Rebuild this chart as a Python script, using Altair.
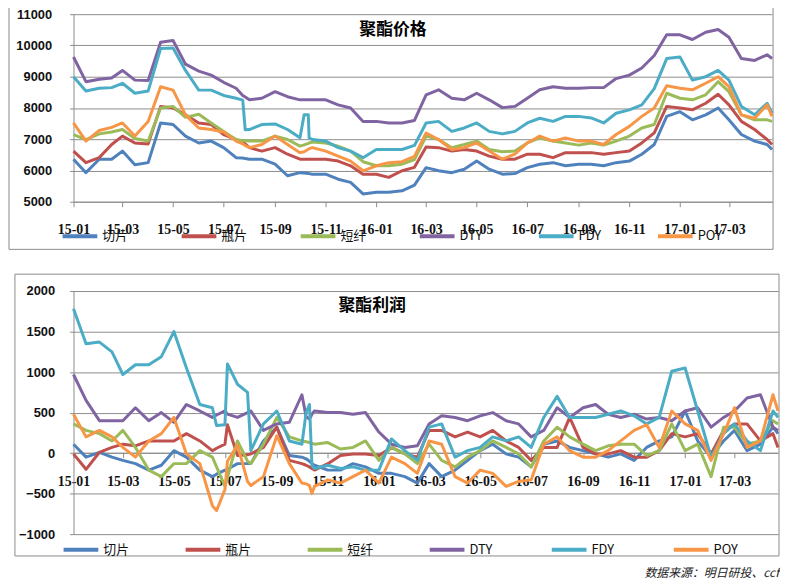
import altair as alt
import pandas as pd

SERIES = ["切片", "瓶片", "短纤", "DTY", "FDY", "POY"]
COLORS = ["#4F81BD", "#C0504D", "#9BBB59", "#8064A2", "#4BACC6", "#F79646"]

# half-month sample dates, Jan 2015 .. Apr 2017
DATES = [f"{2015 + (i // 24)}-{(i // 2) % 12 + 1:02d}-{'01' if i % 2 == 0 else '16'}" for i in range(56)] + ["2017-04-22"]
# extra dates where the curves have sharp features
PRICE_EXTRA_DATES = ["2015-07-24", "2015-07-27", "2015-10-06", "2015-10-11", "2015-10-12"]
PROFIT_EXTRA_DATES = ["2015-06-21", "2015-07-04", "2015-07-28", "2015-10-06", "2015-10-10", "2015-10-13"]

TICK_LABEL_MONTHS = [(2015, 1), (2015, 3), (2015, 5), (2015, 7), (2015, 9), (2015, 11),
                     (2016, 1), (2016, 3), (2016, 5), (2016, 7), (2016, 9), (2016, 11),
                     (2017, 1), (2017, 3)]

# ---- 聚酯价格 ----
price_qp = [6360, 5930, 6360, 6360, 6620, 6180, 6250, 7520, 7470, 7100, 6880, 6940, 6730, 6410,
            6360, 6360, 6200, 5830, 5930, 5880, 5880, 5720, 5620, 5250, 5300, 5300, 5350, 5530,
            6090, 5990, 5930, 6040, 6300, 6040, 5880, 5900, 6090, 6200, 6250, 6150, 6200,
            6200, 6150, 6250, 6300, 6520, 6830, 7730, 7880, 7620, 7780, 8000, 7620, 7150, 6940, 6830, 6670]
price_pp = [6620, 6250, 6410, 6830, 7100, 6880, 6850, 8050, 8000, 7780, 7520, 7470, 7150, 6990,
            6730, 6620, 6730, 6520, 6360, 6360, 6360, 6300, 6150, 5880, 5880, 5780, 5990, 6100,
            6750, 6730, 6620, 6670, 6620, 6460, 6360, 6360, 6520, 6520, 6410, 6570, 6570,
            6570, 6520, 6570, 6620, 6880, 7200, 8050, 8000, 7940, 8150, 8440, 8100, 7570, 7310, 6990, 6830]
price_dx = [7150, 6990, 7170, 7230, 7310, 7020, 6940, 8000, 8050, 7700, 7800, 7520, 7250, 6990,
            6940, 6940, 7100, 6990, 6780, 6910, 6880, 6780, 6620, 6280, 6150, 6150, 6200, 6350,
            7100, 6990, 6730, 6830, 6940, 6670, 6600, 6620, 6880, 7040, 6940, 6880, 6810,
            6880, 6810, 6940, 7100, 7360, 7470, 8470, 8310, 8260, 8420, 8840, 8520, 7780, 7620, 7620, 7570]
price_dty = [9630, 8840, 8920, 8960, 9200, 8890, 8880, 10100, 10160, 9400, 9180, 9050, 8820, 8630,
             8260, 8310, 8520, 8360, 8260, 8260, 8260, 8100, 8000, 7570, 7570, 7520, 7520, 7600,
             8420, 8580, 8310, 8260, 8470, 8260, 8010, 8050, 8310, 8580, 8680, 8630, 8630,
             8650, 8650, 8940, 9050, 9280, 9680, 10340, 10340, 10190, 10420, 10510, 10260, 9580, 9520, 9700, 9580]
price_fdy = [9000, 8540, 8630, 8650, 8790, 8470, 8540, 9900, 9920, 9200, 8570, 8570, 8400, 8310,
             7310, 7470, 7490, 7310, 7050, 6990, 6940, 6730, 6620, 6410, 6670, 6670, 6670, 6800,
             7520, 7570, 7250, 7360, 7520, 7250, 7170, 7250, 7520, 7670, 7570, 7730, 7730,
             7680, 7520, 7830, 7940, 8100, 8620, 9580, 9630, 8890, 9000, 9200, 8890, 8050, 7780, 8150, 7830]
price_poy = [7520, 6940, 7280, 7380, 7520, 7100, 7570, 8680, 8570, 7780, 7360, 7310, 7230, 6940,
             6730, 6830, 7100, 6830, 6570, 6730, 6620, 6460, 6300, 5990, 6150, 6250, 6280, 6450,
             7200, 6990, 6670, 6730, 6880, 6620, 6360, 6520, 6880, 7100, 6940, 7040, 6940,
             6940, 6830, 7150, 7410, 7730, 8000, 8710, 8630, 8580, 8790, 9000, 8680, 7780, 7670, 8100, 7730]
# values at PRICE_EXTRA_DATES
price_qp_x = [6400, 6380, 5920, 5900, 5900]
price_pp_x = [6900, 6850, 6360, 6360, 6360]
price_dx_x = [6950, 6950, 6820, 6870, 6880]
price_dty_x = [8400, 8350, 8260, 8260, 8260]
price_fdy_x = [8250, 7300, 7780, 7780, 7040]
price_poy_x = [6850, 6800, 6600, 6680, 6700]

# ---- 聚酯利润 ----
profit_qp = [110, -50, 10, -50, -90, -130, -210, -150, 30, -50, -210, -290, -210, -130,
             -130, 150, 320, -30, -50, -150, -210, -210, -130, -170, -250, -250, -290, -370,
             -130, -290, -210, -90, 30, 110, -10, -50, -170, 110, 150, 70, 30,
             -10, -50, -10, -90, 70, 150, 200, 520, 150, -50, 150, 280, 30, 110, 320, 240]
profit_pp = [-10, -200, 10, 70, 110, 90, 150, 150, 150, 240, 150, 30, 110, -30,
             -10, 70, 320, -90, -130, -210, -130, -30, -10, -10, -30, 70, -10, -50,
             280, 280, 200, 260, 200, 280, 150, 70, -90, 70, 70, 440, 70,
             -10, -10, 30, -50, -50, 30, 240, 200, 240, -10, 280, 360, 360, 150, 240, 70]
profit_dx = [360, 280, 240, 150, 280, 70, -210, -290, -130, -130, 30, -50, -410, 150,
             -130, 110, 440, 200, 150, 110, 130, 50, 70, 150, -90, 70, -10, -130,
             110, -90, -170, -50, 30, 150, 70, -10, -170, 150, 320, 200, 110,
             30, 90, 110, 110, -30, 30, 360, 30, 110, -290, 320, 320, 110, 150, 400, 360]
profit_dty = [970, 650, 400, 400, 400, 560, 400, 500, 380, 600, 520, 440, 520, 440,
              520, 280, 360, 380, 720, 520, 500, 500, 480, 500, 260, 110, 70, 90,
              360, 460, 440, 400, 460, 500, 400, 360, 200, 280, 560, 440, 560,
              600, 480, 440, 480, 420, 440, 400, 520, 560, 320, 440, 520, 680, 720, 320, 280]
profit_fdy = [1780, 1350, 1370, 1250, 970, 1090, 1090, 1190, 1500, 1050, 600, 560, 350, 850,
              30, 360, 520, 150, 110, -190, -150, -190, -170, -210, -210, 175, 30, -90,
              320, 360, -50, 30, 70, 200, 150, 200, 70, 440, 700, 440, 440,
              440, 480, 520, 460, 360, 440, 1010, 1050, 520, -50, 240, 360, 150, 30, 520, 440]
profit_poy = [480, 200, 280, 200, 70, -50, 150, 240, 440, -10, -130, -650, -450, 100,
              -400, -290, 215, -130, -370, -410, -330, -370, -290, -210, -370, -50, -130, -250,
              150, 110, -290, -370, -210, -250, -410, -350, -330, 110, 200, 30, -50,
              -50, 30, 150, 280, 350, 70, 520, 360, 280, -90, 240, 560, 70, 150, 720, 520]
# values at PROFIT_EXTRA_DATES
profit_qp_x = [-260, -200, -130, -70, -100, -130]
profit_pp_x = [60, 350, -20, -150, -170, -190]
profit_dx_x = [-170, -300, -100, 140, 130, 120]
profit_dty_x = [470, 480, 500, 450, 420, 480]
profit_fdy_x = [340, 1100, 750, 500, 600, -150]
profit_poy_x = [-710, -100, -350, -380, -400, -500]

PRICE_VALUES = [5000, 6000, 7000, 8000, 9000, 10000, 11000]
PROFIT_VALUES = [-1000, -500, 0, 500, 1000, 1500, 2000]
SOURCE = "数据来源：明日研投、ccf"


def long_df(dates, arrays):
    rows = []
    for name, arr in zip(SERIES, arrays):
        for d, v in zip(dates, arr):
            rows.append({"date": d, "series": name, "value": v})
    df = pd.DataFrame(rows)
    df["order"] = df["series"].map({s: i for i, s in enumerate(SERIES)})
    return df.sort_values(["order", "date"]).drop(columns="order").reset_index(drop=True)


TICKS = [alt.DateTime(year=y, month=m, date=1, utc=True) for y, m in TICK_LABEL_MONTHS]
X_DOMAIN = [alt.DateTime(year=2015, month=1, date=1, utc=True),
            alt.DateTime(year=2017, month=4, date=22, utc=True)]

GRAY = "#8c8c8c"


def panel(df, title, ydom, yvals, w, h, c):
    x = alt.X("date:T", title=None,
              scale=alt.Scale(type="utc", domain=X_DOMAIN, nice=False),
              axis=alt.Axis(values=TICKS, labelExpr="utcFormat(datum.value, '%y-%m')", grid=False,
                            domainColor=GRAY, tickColor=GRAY, tickSize=5,
                            labelPadding=c["xpad"], offset=c["xoff"],
                            labelFont="Liberation Serif", labelFontWeight="bold",
                            labelFontSize=14, labelColor="#111",
                            labelOverlap=False, labelFlush=False))
    y = alt.Y("value:Q", title=None,
              scale=alt.Scale(domain=ydom, nice=False, zero=False),
              axis=alt.Axis(values=yvals, format="d", grid=True, gridColor=GRAY, gridWidth=1,
                            domainColor=GRAY, tickColor=GRAY, tickSize=4,
                            labelPadding=c["ypad"], labelFont="Liberation Sans",
                            labelFontWeight="bold", labelFontSize=13, labelColor="#111"))
    color = alt.Color("series:N", sort=SERIES,
                      scale=alt.Scale(domain=SERIES, range=COLORS),
                      legend=alt.Legend(orient="none", legendX=c["lx"], legendY=c["ly"],
                                        direction="horizontal", columns=6, title=None,
                                        symbolType="stroke", symbolSize=1225, symbolStrokeWidth=4,
                                        labelFont="Noto Sans CJK SC", labelFontSize=13,
                                        labelColor="#111", columnPadding=c["cp"],
                                        gridAlign="all", labelOffset=3))
    lines = alt.Chart(df).mark_line(strokeWidth=3, strokeJoin="round").encode(
        x=x, y=y, color=color)
    border = alt.Chart(pd.DataFrame({"k": [0]})).mark_rect(
        fillOpacity=0, stroke="#8a8a8a", strokeWidth=1).encode(
        x=alt.value(c["bx"][0]), x2=alt.value(c["bx"][1]),
        y=alt.value(c["by"][0]), y2=alt.value(c["by"][1]))
    ttl = alt.Chart(pd.DataFrame({"t": [title]})).mark_text(
        font="Noto Sans CJK SC", fontSize=17, fontWeight="bold", color="#000").encode(
        text="t:N", x=alt.value(c["tx"]), y=alt.value(c["ty"]))
    layers = [border, lines, ttl]
    if "src" in c:
        src = alt.Chart(pd.DataFrame({"t": [SOURCE]})).mark_text(
            font="Noto Sans CJK SC", fontSize=12, fontStyle="italic", align="right",
            baseline="bottom", color="#222").encode(
            text="t:N", x=alt.value(c["src"][0]), y=alt.value(c["src"][1]))
        layers.append(src)
    return alt.layer(*layers).properties(width=w, height=h)


price_df = long_df(DATES + PRICE_EXTRA_DATES,
                   [price_qp + price_qp_x, price_pp + price_pp_x, price_dx + price_dx_x,
                    price_dty + price_dty_x, price_fdy + price_fdy_x, price_poy + price_poy_x])
profit_df = long_df(DATES + PROFIT_EXTRA_DATES,
                    [profit_qp + profit_qp_x, profit_pp + profit_pp_x, profit_dx + profit_dx_x,
                     profit_dty + profit_dty_x, profit_fdy + profit_fdy_x, profit_poy + profit_poy_x])

top = panel(price_df, "聚酯价格", [5000, 11000], PRICE_VALUES, 704, 189,
            dict(xpad=16, xoff=0, ypad=18, lx=-13, ly=204, cp=45,
                 bx=(-65, 705), by=(-7, 237), tx=322, ty=16))
bottom = panel(profit_df, "聚酯利润", [-1000, 2000], PROFIT_VALUES, 710, 245,
               dict(xpad=17, xoff=-82, ypad=15, lx=-12, ly=241, cp=48,
                    bx=(-59, 711), by=(-17, 267), tx=301, ty=15, src=(711, 291)))

chart = alt.vconcat(top, bottom, spacing=23).resolve_scale(color="independent").properties(
    padding={"top": -4, "left": 0, "right": 0, "bottom": 0},
    background="white").configure_view(strokeWidth=0)

chart.save("out.html", embed_options={"renderer": "svg", "actions": False})
